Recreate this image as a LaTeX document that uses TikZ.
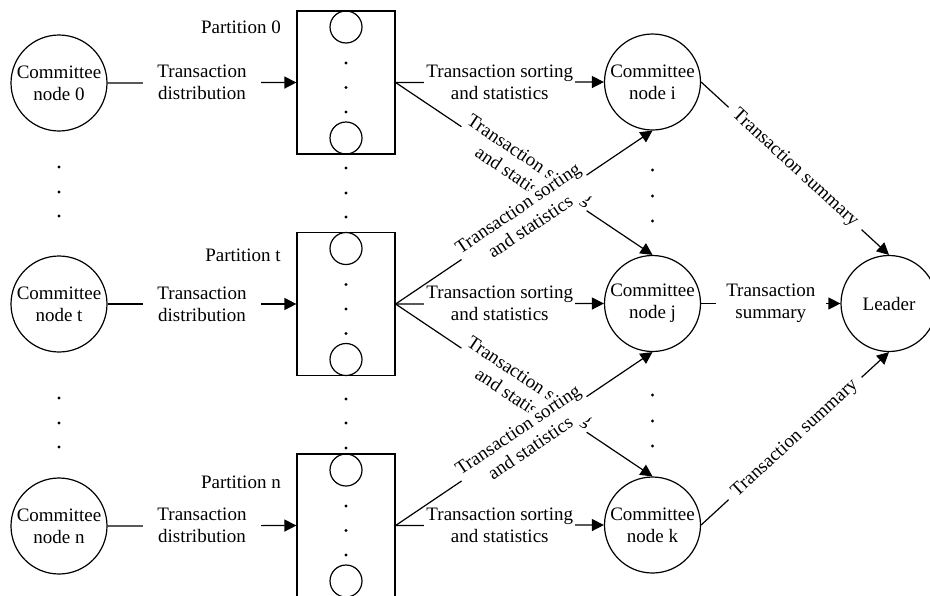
\documentclass[tikz,border=0pt]{standalone}
\usepackage{fontspec}
\setmainfont{Liberation Serif}
\usetikzlibrary{arrows.meta}

\begin{document}
\begin{tikzpicture}[x=0.5pt, y=-0.5pt, font=\fontsize{9.5}{11}\selectfont,
    line width=0.6pt,
    member/.style={draw, circle, minimum size=48pt, inner sep=0pt, align=center},
    part/.style={draw, minimum width=49pt, minimum height=71.5pt, inner sep=0pt},
    slot/.style={draw, circle, minimum size=16pt, inner sep=0pt},
    flow/.style={-{Triangle[length=6pt,width=6pt]}},
    tag/.style={fill=white, inner sep=1pt, align=center},
    dot/.style={circle, fill, inner sep=0pt, minimum size=1.6pt}]
    \useasboundingbox (0,0) rectangle (930,595);

    % committee nodes on the left
    \node[member] (c0) at (59,83) {Committee\\node 0};
    \node[member] (ct) at (59,304) {Committee\\node t};
    \node[member] (cn) at (59,526) {Committee\\node n};

    % partitions
    \node[part] (p0) at (346,82.5) {};
    \node[part] (pt) at (346,304) {};
    \node[part] (pn) at (346,525.5) {};
    \foreach \p in {p0,pt,pn} {
      \node[slot, anchor=north] (\p top) at (\p.north) {};
      \node[slot, anchor=south] (\p bot) at (\p.south) {};
      \foreach \dy in {-19.5,5,29.5}
        \node[dot] at ([yshift=-\dy*0.5pt]\p.center) {};
    }
    \node[anchor=east] (l0) at (288,27) {Partition 0};
    \node[anchor=east] (lt) at (288,255) {Partition t};
    \node[anchor=east] (ln) at (288,482) {Partition n};

    % committee nodes on the right and the leader
    \node[member] (ci) at (652.5,82) {Committee\\node i};
    \node[member] (cj) at (652.5,303.5) {Committee\\node j};
    \node[member] (ck) at (652.5,525) {Committee\\node k};
    \node[member] (leader) at (889,303.5) {Leader};

    % dots between the columns
    \foreach \x/\y in {59/167,59/192,59/216,59/398,59/423,59/447,
                       346/168,346/193,346/217,346/399,346/423,346/448,
                       652.5/170,652.5/196,652.5/221,652.5/395,652.5/421,652.5/446}
      \node[dot] at (\x,\y) {};

    % distribution
    \draw[flow] (c0.east) -- node[tag, minimum width=59pt]{Transaction\\distribution} (p0.west);
    \draw[flow] (ct.east) -- node[tag, minimum width=59pt]{Transaction\\distribution} (pt.west);
    \draw[flow] (cn.east) -- node[tag, minimum width=59pt]{Transaction\\distribution} (pn.west);

    % sorting and statistics
    \draw[flow] (p0.east) -- node[tag]{Transaction sorting\\and statistics} (ci.west);
    \draw[flow] (pt.east) -- node[tag]{Transaction sorting\\and statistics} (cj.west);
    \draw[flow] (pn.east) -- node[tag]{Transaction sorting\\and statistics} (ck.west);
    \draw[flow] (p0.east) -- node[tag, sloped]{Transaction sorting\\and statistics} (cj.north);
    \draw[flow] (pt.east) -- node[tag, sloped]{Transaction sorting\\and statistics} (ck.north);
    \draw[flow] (pt.east) -- node[tag, sloped]{Transaction sorting\\and statistics} (ci.south);
    \draw[flow] (pn.east) -- node[tag, sloped]{Transaction sorting\\and statistics} (cj.south);

    % summary
    \draw[flow] (ci.east) -- node[tag, sloped, inner xsep=4pt]{Transaction summary} (leader.north);
    \draw[flow] (cj.east) -- node[tag, minimum width=55pt]{Transaction\\summary} (leader.west);
    \draw[flow] (ck.east) -- node[tag, sloped, inner xsep=4pt]{Transaction summary} (leader.south);
  \end{tikzpicture}
\end{document}
